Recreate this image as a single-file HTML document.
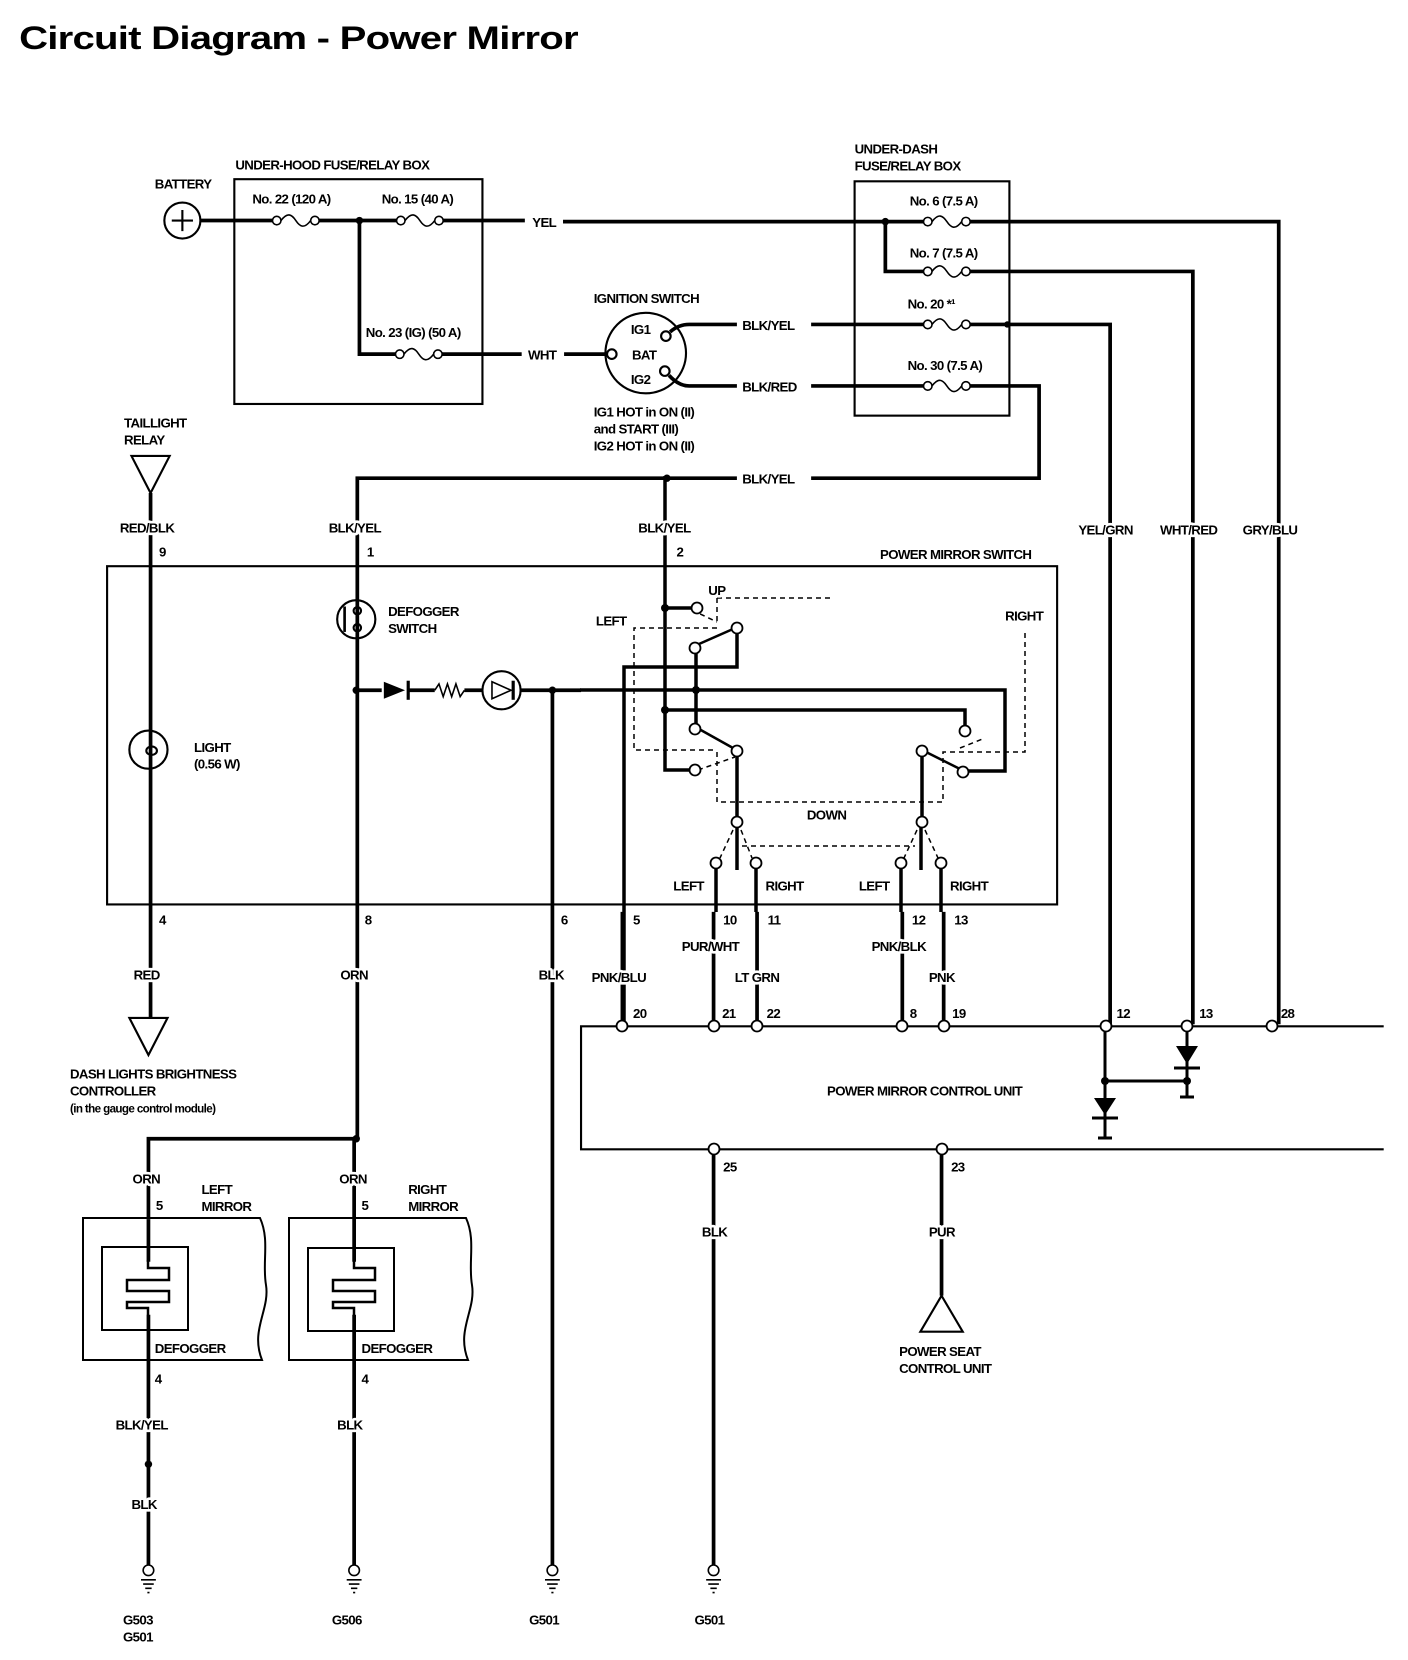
<!DOCTYPE html>
<html><head><meta charset="utf-8"><style>
html,body{margin:0;padding:0;background:#fff;}
svg{display:block;}
text{font-family:"Liberation Sans",sans-serif;font-weight:bold;fill:#000;letter-spacing:-0.6px;stroke:#fff;stroke-width:5px;paint-order:stroke;stroke-linejoin:round;}
</style></head><body>
<svg width="1408" height="1660" viewBox="0 0 1408 1660" xmlns="http://www.w3.org/2000/svg">
<defs>
<g id="fz"><circle cx="0" cy="0" r="4"/><circle cx="36" cy="0" r="4"/><path d="M4,0 C10,-8 14,-6 18,0 C22,6 26,8 32,0" fill="none"/></g>
<g id="gnd"><circle cx="0" cy="0" r="5"/><path d="M-7,9 H7 M-5,13 H5 M-3,17 H3 M-1,21 H1" fill="none"/></g>
</defs>
<rect width="1408" height="1660" fill="#fff"/>
<g transform="scale(1.0603)">
<g fill="none" stroke="#000" stroke-width="2">
<rect x="221" y="169" width="234" height="212"/>
<rect x="806" y="171" width="146" height="221"/>
<rect x="101" y="534" width="896" height="319"/>
<path d="M1305,968 H548 V1084 H1305"/>
<circle cx="172" cy="208" r="17"/>
<path d="M162,208 H182 M172,198 V218"/>
<circle cx="609" cy="333" r="38"/>
<circle cx="628" cy="317" r="4.5" fill="#fff"/>
<circle cx="577" cy="334" r="4.5" fill="#fff"/>
<circle cx="627" cy="350" r="4.5" fill="#fff"/>
<path d="M124,430 H160 L142,465 Z"/>
<path d="M122,960 H158 L140,995 Z"/>
<path d="M888,1222 L868,1256 H908 Z"/>
<circle cx="140" cy="707" r="18"/>
<ellipse cx="143" cy="708" rx="5" ry="4"/>
<circle cx="336" cy="584" r="18"/>
<path d="M325,572 V596" stroke-width="2.5"/>
<circle cx="337" cy="576" r="3.5" fill="#fff"/>
<circle cx="337" cy="592" r="3.5" fill="#fff"/>
<circle cx="473" cy="651" r="18"/>
<path d="M464,643 L482,651 L464,659 Z" stroke-width="1.5"/>
<path d="M484,642 V660" stroke-width="3"/>
<path d="M410,651 L414,645 L418,657 L422,645 L426,657 L430,645 L434,657 L438,651" stroke-width="1.5"/>
</g>
<g fill="none" stroke="#000" stroke-width="3.5">
<path d="M189,208 H260 M298,208 H376 M414,208 H495"/>
<path d="M339,208 V334 H376 M414,334 H492"/>
<path d="M532,334 H572"/>
<path d="M531,209 H874 M911,209 H1206 V966"/>
<path d="M835,209 V256 H874 M911,256 H1125 V966"/>
<path d="M632,313 Q640,306 650,306 H695 M765,306 H874 M911,306 H1047 V966"/>
<path d="M631,354 Q640,364 650,364 H695 M765,364 H874 M911,364 H980 V451 H765 M695,451 H337 V1074 H140 V1150"/>
<path d="M142,465 V960"/>
<path d="M334,1074 V1190 M334,1240 V1476"/>
<path d="M521,651 V1478"/>
<path d="M336,651 H360 M385,651 H410 M438,651 H455 M491,651 H548"/>
<path d="M140,1150 V1190 M140,1240 V1476"/>
<path d="M673,1084 V1476"/>
<path d="M888,1084 V1222"/>
<path d="M587,966 V860"/>
<path d="M673,966 V860 M714,966 V860 M851,966 V860 M890,966 V860"/>
</g>
<g fill="#fff" stroke="#000" stroke-width="1.5">
<use href="#fz" x="261" y="208"/><use href="#fz" x="378" y="208"/><use href="#fz" x="377" y="334"/>
<use href="#fz" x="875" y="209"/><use href="#fz" x="875" y="256"/><use href="#fz" x="875" y="306"/><use href="#fz" x="875" y="364"/>
</g>
<path d="M362,643 L382,651 L362,659 Z" fill="#000"/>
<path d="M385,642 V660" stroke="#000" stroke-width="3"/>
<g fill="#000">
<circle cx="339" cy="208" r="3.5"/><circle cx="835" cy="209" r="3.5"/><circle cx="950" cy="306" r="3"/>
<circle cx="629" cy="451" r="3.5"/><circle cx="336" cy="651" r="3.5"/><circle cx="521" cy="651" r="3.5"/>
<circle cx="336" cy="1074" r="3.5"/><circle cx="140" cy="1381" r="3.5"/>
</g>
<g fill="#fff" stroke="#000" stroke-width="1.5">
<use href="#gnd" x="140" y="1481"/><use href="#gnd" x="334" y="1481"/><use href="#gnd" x="521" y="1481"/><use href="#gnd" x="673" y="1481"/>
</g>
</g>
<g fill="none" stroke="#000">
<g stroke-width="3.5">
<path d="M665,476 V770 H690"/>
<path d="M665,608 H692"/>
<path d="M665,710 H965 V726"/>
<path d="M737,632 V667 H624 V1026"/>
<path d="M580,690 H1005 V771 H968"/>
<path d="M696,652 V724"/>
<path d="M737,755 V818"/>
<path d="M922,755 V818"/>
<path d="M737,826 V870 M921,826 V870"/>
<path d="M716,868 V912 M756,868 V912 M901,868 V912 M941,868 V912"/>
</g>
<g stroke-width="2.5">
<path d="M699,644 L733,629"/>
<path d="M699,729 L733,748"/>
<path d="M926,752 L960,769"/>
</g>
<g stroke-width="1.5" stroke-dasharray="5,4">
<path d="M717,598 H832 M717,598 V625"/>
<path d="M717,628 H634 V750 H717"/>
<path d="M717,752 V802 H943 V752 H1025 V630"/>
<path d="M742,846 H915"/>
<path d="M692,610 L717,622 M960,748 L985,738 M698,770 L735,757"/>
<path d="M733,830 L720,858 M741,830 L752,858 M917,830 L904,858 M925,830 L938,858"/>
</g>
<g fill="#fff" stroke-width="1.8">
<circle cx="697" cy="608" r="5.5"/><circle cx="737" cy="628" r="5.5"/><circle cx="695" cy="648" r="5.5"/>
<circle cx="695" cy="729" r="5.5"/><circle cx="737" cy="751" r="5.5"/><circle cx="695" cy="770" r="5.5"/>
<circle cx="965" cy="731" r="5.5"/><circle cx="922" cy="751" r="5.5"/><circle cx="963" cy="772" r="5.5"/>
<circle cx="737" cy="822" r="5.5"/><circle cx="922" cy="822" r="5.5"/>
<circle cx="716" cy="863" r="5.5"/><circle cx="756" cy="863" r="5.5"/><circle cx="901" cy="863" r="5.5"/><circle cx="941" cy="863" r="5.5"/>
<circle cx="622" cy="1026" r="5.5"/><circle cx="714" cy="1026" r="5.5"/><circle cx="757" cy="1026" r="5.5"/>
<circle cx="902" cy="1026" r="5.5"/><circle cx="944" cy="1026" r="5.5"/><circle cx="1106" cy="1026" r="5.5"/>
<circle cx="1187" cy="1026" r="5.5"/><circle cx="1272" cy="1026" r="5.5"/>
<circle cx="714" cy="1149" r="5.5"/><circle cx="942" cy="1149" r="5.5"/>
</g>
<g fill="#000" stroke="none">
<circle cx="665" cy="608" r="4"/><circle cx="665" cy="710" r="4"/><circle cx="696" cy="690" r="4"/>
<circle cx="1105" cy="1081" r="4"/><circle cx="1187" cy="1081" r="4"/>
<path d="M1176,1046 H1198 L1187,1064 Z"/><path d="M1094,1098 H1116 L1105,1115 Z"/>
</g>
<g stroke-width="3">
<path d="M1105,1031 V1138 M1098,1138 H1112"/>
<path d="M1187,1031 V1097 M1180,1097 H1194"/>
<path d="M1105,1081 H1187"/>
<path d="M1174,1068 H1200 M1092,1118 H1118"/>
</g>
<g stroke-width="2">
<path d="M83,1218 H260 C270,1240 262,1262 266,1285 C270,1310 250,1330 262,1360 H83 Z"/>
<rect x="102" y="1247" width="86" height="83"/>
<path d="M289,1218 H466 C476,1240 468,1262 472,1285 C476,1310 456,1330 468,1360 H289 Z"/>
<rect x="308" y="1248" width="86" height="83"/>
</g>
<g stroke-width="2.5">
<path d="M148,1260 V1268 H169 V1280 H127 V1291 H169 V1302 H127 V1308 H148 V1315"/>
<path d="M354,1260 V1268 H375 V1280 H333 V1291 H375 V1302 H333 V1308 H354 V1315"/>
</g>
</g>
<g transform="scale(1.0603)">
<text x="18" y="46" font-size="31" textLength="527" lengthAdjust="spacingAndGlyphs" style="stroke:none">Circuit Diagram - Power Mirror</text>
<g font-size="12.5">
<text x="222" y="160">UNDER-HOOD FUSE/RELAY BOX</text>
<text x="146" y="178">BATTERY</text>
<text x="238" y="192" style="stroke:none">No. 22 (120 A)</text>
<text x="360" y="192" style="stroke:none">No. 15 (40 A)</text>
<text x="345" y="318" style="stroke:none">No. 23 (IG) (50 A)</text>
<text x="502" y="214">YEL</text>
<text x="498" y="339">WHT</text>
<text x="560" y="286">IGNITION SWITCH</text>
<text x="595" y="315" style="stroke:none">IG1</text>
<text x="596" y="339" style="stroke:none">BAT</text>
<text x="595" y="362" style="stroke:none">IG2</text>
<text x="560" y="393">IG1 HOT in ON (II)</text>
<text x="560" y="409">and START (III)</text>
<text x="560" y="425">IG2 HOT in ON (II)</text>
<text x="700" y="311">BLK/YEL</text>
<text x="700" y="369">BLK/RED</text>
<text x="700" y="456">BLK/YEL</text>
<text x="806" y="145">UNDER-DASH</text>
<text x="806" y="161">FUSE/RELAY BOX</text>
<text x="858" y="194" style="stroke:none">No. 6 (7.5 A)</text>
<text x="858" y="243" style="stroke:none">No. 7 (7.5 A)</text>
<text x="856" y="291" style="stroke:none">No. 20 *¹</text>
<text x="856" y="349" style="stroke:none">No. 30 (7.5 A)</text>
<text x="117" y="403">TAILLIGHT</text>
<text x="117" y="419">RELAY</text>
<text x="113" y="502">RED/BLK</text>
<text x="150" y="525">9</text>
<text x="310" y="502">BLK/YEL</text>
<text x="346" y="525">1</text>
<text x="602" y="502">BLK/YEL</text>
<text x="638" y="525">2</text>
<text x="1017" y="504">YEL/GRN</text>
<text x="1094" y="504">WHT/RED</text>
<text x="1172" y="504">GRY/BLU</text>
<text x="830" y="527">POWER MIRROR SWITCH</text>
<text x="366" y="581">DEFOGGER</text>
<text x="366" y="597">SWITCH</text>
<text x="183" y="709">LIGHT</text>
<text x="183" y="725">(0.56 W)</text>
<text x="668" y="561">UP</text>
<text x="562" y="590">LEFT</text>
<text x="948" y="585">RIGHT</text>
<text x="761" y="773">DOWN</text>
<text x="635" y="840">LEFT</text>
<text x="722" y="840">RIGHT</text>
<text x="810" y="840">LEFT</text>
<text x="896" y="840">RIGHT</text>
<text x="150" y="872">4</text>
<text x="344" y="872">8</text>
<text x="529" y="872">6</text>
<text x="597" y="872">5</text>
<text x="682" y="872">10</text>
<text x="724" y="872">11</text>
<text x="860" y="872">12</text>
<text x="900" y="872">13</text>
<text x="643" y="897">PUR/WHT</text>
<text x="822" y="897">PNK/BLK</text>
<text x="126" y="924">RED</text>
<text x="321" y="924">ORN</text>
<text x="508" y="924">BLK</text>
<text x="558" y="926">PNK/BLU</text>
<text x="693" y="926">LT GRN</text>
<text x="876" y="926">PNK</text>
<text x="597" y="960" style="stroke:none">20</text>
<text x="681" y="960" style="stroke:none">21</text>
<text x="723" y="960" style="stroke:none">22</text>
<text x="858" y="960" style="stroke:none">8</text>
<text x="898" y="960" style="stroke:none">19</text>
<text x="1053" y="960" style="stroke:none">12</text>
<text x="1131" y="960" style="stroke:none">13</text>
<text x="1208" y="960" style="stroke:none">28</text>
<text x="780" y="1033">POWER MIRROR CONTROL UNIT</text>
<text x="66" y="1017">DASH LIGHTS BRIGHTNESS</text>
<text x="66" y="1033">CONTROLLER</text>
<text x="66" y="1049" font-size="11">(in the gauge control module)</text>
<text x="682" y="1105">25</text>
<text x="897" y="1105">23</text>
<text x="125" y="1116">ORN</text>
<text x="320" y="1116">ORN</text>
<text x="147" y="1141">5</text>
<text x="341" y="1141">5</text>
<text x="190" y="1126">LEFT</text>
<text x="190" y="1142">MIRROR</text>
<text x="385" y="1126">RIGHT</text>
<text x="385" y="1142">MIRROR</text>
<text x="662" y="1166">BLK</text>
<text x="876" y="1166">PUR</text>
<text x="146" y="1276" style="stroke:none">DEFOGGER</text>
<text x="341" y="1276" style="stroke:none">DEFOGGER</text>
<text x="848" y="1279">POWER SEAT</text>
<text x="848" y="1295">CONTROL UNIT</text>
<text x="146" y="1305">4</text>
<text x="341" y="1305">4</text>
<text x="109" y="1348">BLK/YEL</text>
<text x="318" y="1348">BLK</text>
<text x="124" y="1423">BLK</text>
<text x="116" y="1532">G503</text>
<text x="116" y="1548">G501</text>
<text x="313" y="1532">G506</text>
<text x="499" y="1532">G501</text>
<text x="655" y="1532">G501</text>
</g>
</g>
</svg>
</body></html>
